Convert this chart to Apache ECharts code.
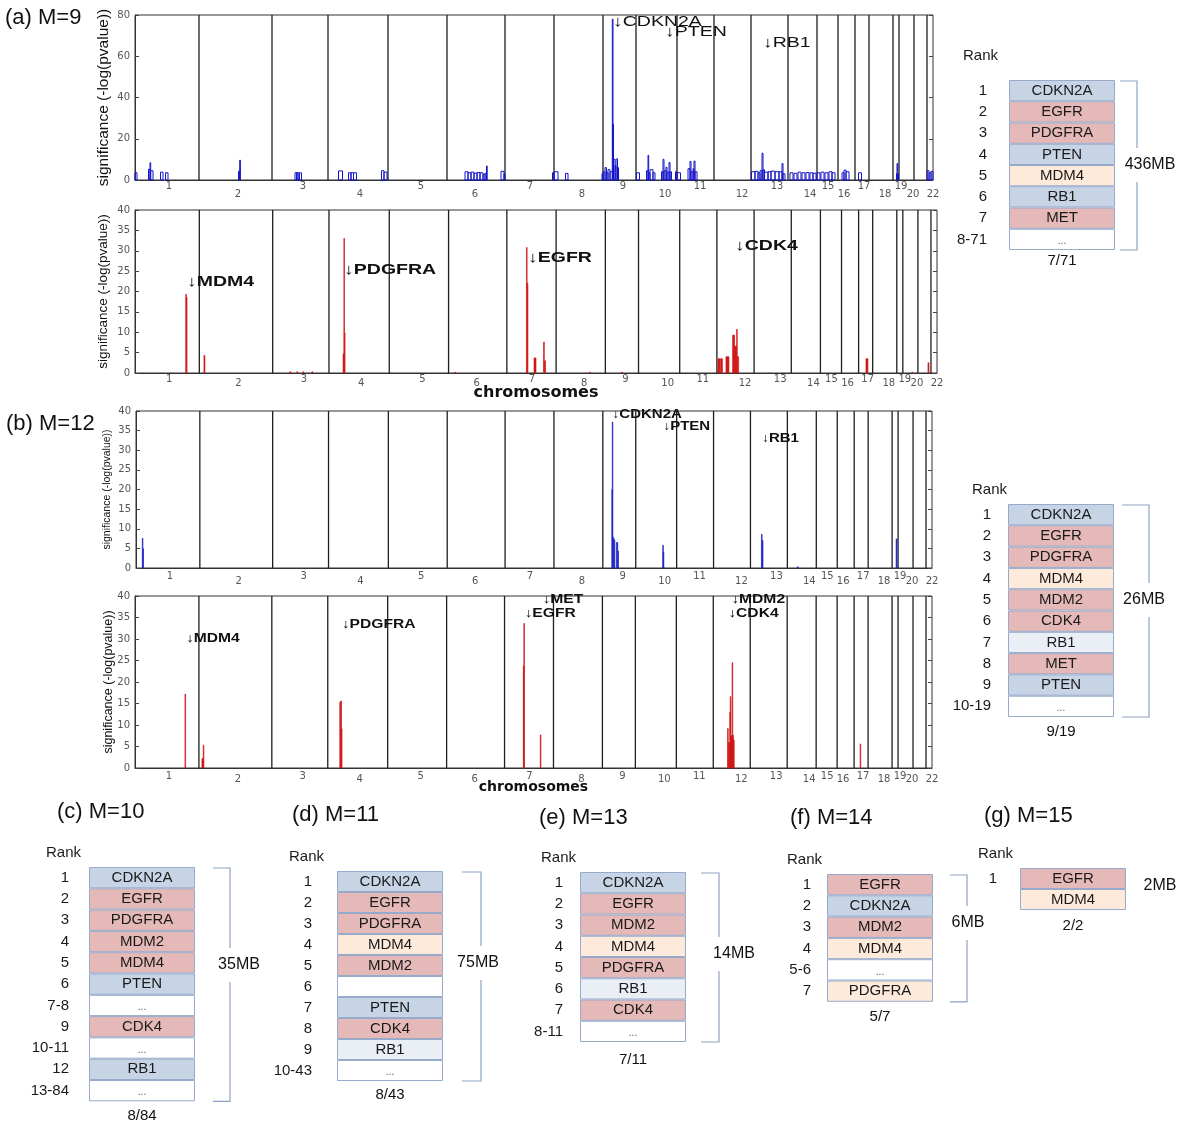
<!DOCTYPE html>
<html><head><meta charset="utf-8">
<script src="https://cdn.jsdelivr.net/npm/echarts@6/dist/echarts.min.js"></script>
<style>html,body{margin:0;padding:0;background:#fff}#c{width:1200px;height:1129px}</style>
</head><body><div id="c"></div>
<script>
// ---------- DATA ----------
// chromosome widths in genome bins (as drawn)
const chromSizes = [64,73,56,60,59,58,49,49,33,41,37,37,37,29,21,17,14,24,6,15,13,6];
// tick-label positions of chromosome numbers (genome bins)
const chromLabelPos = [34,103,168,225,286,340,395,447,488,530,565,607,642,675,693,709,729,750,766,778,790,798];

// spikes: [chromosome, start bin in chr, end bin in chr, -log(pvalue)]
const sigM9Deletion = [
 [1,0,2,3.5],[1,13.5,15,5.2],[1,15,15.6,8.4],[1,15.6,18,4.5],[1,25.5,28,3.8],[1,30.5,33,3.5],
 [2,39.5,40.7,4.2],[2,40.7,41.3,9.6],
 [3,23,24.5,3.5],[3,24.5,26,3.6],[3,26,27.5,3.4],[3,27.5,29.5,3.5],
 [4,10.5,14.5,4.4],[4,20.5,23,3.5],[4,23,25.5,3.5],[4,25.5,28.5,3.5],[4,53.5,56,4.5],[4,56,59,3.8],
 [6,18,21,4],[6,21,24,3.5],[6,24,27,3.8],[6,27,30,3.3],[6,30,33,3.6],[6,33,36,3.5],[6,36,38,2.8],[6,38,39.5,3.2],[6,39.5,40.2,6.8],[6,54,57,4.2],[6,57,58,3],
 [7,47.5,49,3.5],[8,0,4,4],[8,11.5,14,3.2],[8,48,49,3],
 [9,0,2,4],[9,2,3.5,6],[9,3.5,5,3.5],[9,5,7,5],[9,7,9.3,4],[9,9.3,9.8,78],[9,9.8,10.4,27],[9,10.4,12,10],[9,12,13,7],[9,13,14.5,10.2],[9,14.5,15.5,6],
 [10,0.5,3.5,3.5],[10,10.5,12,4.5],[10,12,12.7,12],[10,12.7,14,3.5],[10,14,17,5],[10,17,19,3.5],[10,25.5,27,4],[10,27,28,10],[10,28,30,4.5],[10,30,31,6.2],[10,31,33,3.8],[10,33,34,8.5],[10,34,35.5,4],[10,39.5,41,4],
 [11,0,3.5,3.5],[11,11,13,5.5],[11,13,14,9],[11,14,16,4],[11,16,17,5.5],[11,17,18,9.2],[11,18,20,4],
 [13,0.5,4,4],[13,4,7,4.2],[13,7,9,3.5],[13,9,11,4.5],[13,11,12,13],[13,12,13.5,5],[13,13.5,17,3.8],[13,17,20,4],[13,20,24,4.3],[13,24,28,4],[13,28,31,4],[13,31,32,8],[13,32,34,3],
 [14,2,5,3.5],[14,6,9,3.2],[14,10,13,3.8],[14,14,17,3.5],[14,18,21,3.6],[14,22,25,3.5],[14,25,28,3.3],
 [15,0,3,3.5],[15,4,7,3.8],[15,8,11,3.5],[15,12,15,4],[15,15,18,3.5],
 [16,4,6,3.5],[16,6,8,4.8],[16,8,11,4],
 [17,3.5,6.5,3.5],
 [19,3.5,4,3],[19,4,4.6,8],[19,4.6,5.5,3],
 [22,0,2,4.5],[22,2,4,3.5],[22,4,6,4.2]
];
const sigM9Amplification = [
 [1,50.5,51,19.3],[1,51,51.8,18.5],
 [2,4.6,5.6,4.3],
 [3,17,18,0.3],[3,24,25,0.3],[3,30,31,0.3],[3,39,40,0.3],
 [4,14,14.8,4.7],[4,14.8,15.3,33],[4,15.3,16,9.8],
 [6,6,7,0.2],
 [7,19.5,20.2,30.8],[7,20.2,21,22],[7,27,29,3.7],[7,36.5,37.3,7.6],[7,37.3,38.5,3],
 [8,33,34,0.2],[9,16,17,0.2],
 [12,1,3,3.5],[12,3.5,5.5,3.5],[12,9,12,4],[12,15.6,17.6,9.3],[12,17.6,19.6,6.6],[12,19.6,20.3,10.7],[12,20.3,21.6,4],
 [17,7.3,9.3,3.5],
 [20,9,10,0.2],
 [21,10,11,2.5]
];
const sigM12Deletion = [
 [1,6.3,6.8,7.6],[1,6.8,7.2,4.9],
 [9,9.0,9.4,20],[9,9.4,9.8,37.2],[9,9.8,11,7.8],[9,11,12,7.2],[9,13.5,15,6.5],[9,15,15.6,4.3],
 [10,27,27.5,5.8],[10,27.5,28.2,4],
 [13,11,11.7,8.6],[13,11.7,12.6,7],
 [14,10,11,0.3],
 [19,4,5,7.4]
];
const sigM12Amplification = [
 [1,50,50.7,17.2],
 [2,3,4.3,2.2],[2,4.3,4.8,5.3],
 [4,12,13,15.3],[4,13,13.5,15.6],[4,13.5,14.3,9.1],
 [7,18.8,19.3,23.7],[7,19.3,19.9,33.6],[7,35.8,36.4,7.7],
 [12,14.3,15,9.2],[12,15,16.5,5.9],[12,16.5,17,13],[12,17,17.7,16.6],[12,17.7,18.8,7.5],[12,18.8,19.5,24.5],[12,19.5,20.2,7.6],[12,20.2,21,6.5],
 [17,6,6.7,5.6]
];

// gene annotations: [gene, chromosome, bin in chr, y value]
const annM9Deletion = [['CDKN2A',9,10,76.8],['PTEN',10,29,71.8],['RB1',13,12,66.7]];
const annM9Amplification = [['MDM4',1,51.7,22.3],['PDGFRA',4,15,25.3],['EGFR',7,21,28.2],['CDK4',12,18,31.2]];
const annM12Deletion = [['CDKN2A',9,9,39.0],['PTEN',10,27,35.9],['RB1',13,11,32.9]];
const annM12Amplification = [['MDM4',1,51,30.2],['PDGFRA',4,14,33.3],['MET',7,38,39.1],['EGFR',7,20,36.0],['MDM2',12,18,39.1],['CDK4',12,15,36.0]];

// rank tables
const ranksA = ['1','2','3','4','5','6','7','8-71'];
const genesA = ['CDKN2A','EGFR','PDGFRA','PTEN','MDM4','RB1','MET','...'];
const colorsA = ['B','R','R','B','P','B','R','W'];
const ranksB = ['1','2','3','4','5','6','7','8','9','10-19'];
const genesB = ['CDKN2A','EGFR','PDGFRA','MDM4','MDM2','CDK4','RB1','MET','PTEN','...'];
const colorsB = ['B','R','R','P','R','R','L','R','B','W'];
const ranksC = ['1','2','3','4','5','6','7-8','9','10-11','12','13-84'];
const genesC = ['CDKN2A','EGFR','PDGFRA','MDM2','MDM4','PTEN','...','CDK4','...','RB1','...'];
const colorsC = ['B','R','R','R','R','B','W','R','W','B','W'];
const ranksD = ['1','2','3','4','5','6','7','8','9','10-43'];
const genesD = ['CDKN2A','EGFR','PDGFRA','MDM4','MDM2','','PTEN','CDK4','RB1','...'];
const colorsD = ['B','R','R','P','R','W','B','R','L','W'];
const ranksE = ['1','2','3','4','5','6','7','8-11'];
const genesE = ['CDKN2A','EGFR','MDM2','MDM4','PDGFRA','RB1','CDK4','...'];
const colorsE = ['B','R','R','P','R','L','R','W'];
const ranksF = ['1','2','3','4','5-6','7'];
const genesF = ['EGFR','CDKN2A','MDM2','MDM4','...','PDGFRA'];
const colorsF = ['R','B','R','P','W','P'];
const ranksG = ['1',''];
const genesG = ['EGFR','MDM4'];
const colorsG = ['R','P'];
const tableSizes = ['436MB','26MB','35MB','75MB','14MB','6MB','2MB'];
const tableCounts = ['7/71','9/19','8/84','8/43','7/11','5/7','2/2'];
const panelTitles = ['(a) M=9','(b) M=12','(c) M=10','(d) M=11','(e) M=13','(f) M=14','(g) M=15'];

// ---------- STYLE / LAYOUT ----------
const cellColors = {B:'#c7d4e5', R:'#e6b9b9', P:'#fdeadb', L:'#eaeef5', W:'#ffffff'};
const FONT = 'Liberation Sans';
const chromStart = []; let acc = 0; chromSizes.forEach(s => { chromStart.push(acc); acc += s; });
const genomeLen = acc;
const chromBounds = chromStart.slice(1);

const grids = [], xAxes = [], yAxes = [], series = [], graphics = [];

const plots = [
 {data:sigM9Deletion, ann:annM9Deletion, color:'#1414c8', filled:false, left:135, top:15, width:798, height:165, yMax:80, yInt:20, nameSize:15.5, nameGap:23, lblMargin:1, lblPad:8, annFont:'15px "Liberation Sans"', annScale:1.3},
 {data:sigM9Amplification, ann:annM9Amplification, color:'#d01616', filled:true, left:135, top:210, width:802, height:163, yMax:40, yInt:5, nameSize:13.5, nameGap:25, lblMargin:1, lblPad:4, annFont:'bold 15px "Liberation Sans"', annScale:1.3, xName:'chromosomes', xNameSize:16, xNameGap:12},
 {data:sigM12Deletion, ann:annM12Deletion, color:'#2222c4', filled:true, left:136, top:411, width:796, height:157, yMax:40, yInt:5, nameSize:10.5, nameGap:23, lblMargin:3, lblPad:5, annFont:'bold 12px "Liberation Sans"', annScale:1.25},
 {data:sigM12Amplification, ann:annM12Amplification, color:'#d01616', filled:true, left:135, top:596, width:797, height:172, yMax:40, yInt:5, nameSize:12.5, nameGap:20, lblMargin:3, lblPad:3, annFont:'bold 12.5px "Liberation Sans"', annScale:1.25, xName:'chromosomes', xNameSize:14, xNameGap:12}
];

plots.forEach(p => {
  const gi = grids.length;
  grids.push({left:p.left, top:p.top, width:p.width, height:p.height, show:true, borderColor:'#333', borderWidth:1, backgroundColor:'transparent', outerBoundsMode:'none'});
  const xi = xAxes.length;
  xAxes.push({type:'value', gridIndex:gi, min:0, max:genomeLen,
    axisLine:{show:true, lineStyle:{color:'#333', width:1}}, axisTick:{show:false}, splitLine:{show:false},
    axisLabel:{show:true, customValues:chromLabelPos, margin:p.lblMargin, showMinLabel:true, showMaxLabel:true,
      formatter:(v) => { const n = chromLabelPos.indexOf(v) + 1; return (n % 2 ? '{o|' : '{e|') + n + '}'; },
      rich:{o:{fontSize:10, color:'#555', fontFamily:'DejaVu Sans'}, e:{fontSize:10, color:'#555', fontFamily:'DejaVu Sans', padding:[p.lblPad,0,0,0]}}},
    name:p.xName || '', nameLocation:'middle', nameGap:p.xNameGap || 10, nameMoveOverlap:false,
    nameTextStyle:{fontFamily:'DejaVu Sans', fontWeight:'bold', fontSize:p.xNameSize || 14, color:'#111'}});
  const yi = yAxes.length;
  yAxes.push({type:'value', gridIndex:gi, min:0, max:p.yMax, interval:p.yInt, position:'left',
    axisLine:{show:true, lineStyle:{color:'#333'}}, axisTick:{show:true, inside:true, length:4, lineStyle:{color:'#444'}},
    axisLabel:{fontSize:10, color:'#555', fontFamily:'DejaVu Sans', margin:5}, splitLine:{show:false},
    name:'significance (-log(pvalue))', nameLocation:'middle', nameRotate:90, nameGap:p.nameGap, nameMoveOverlap:false,
    nameTextStyle:{fontFamily:FONT, fontSize:p.nameSize, color:'#111'}});
  yAxes.push({type:'value', gridIndex:gi, min:0, max:p.yMax, interval:p.yInt, position:'right',
    axisLine:{show:false}, axisTick:{show:true, inside:true, length:4, lineStyle:{color:'#444'}},
    axisLabel:{show:false}, splitLine:{show:false}});
  // chromosome boundaries
  series.push({type:'custom', xAxisIndex:xi, yAxisIndex:yi, silent:true, z:2,
    data:chromBounds.map(b => [b, 0]),
    renderItem:(params, api) => {
      const cs = params.coordSys; const x = api.coord([api.value(0), 0])[0];
      return {type:'line', shape:{x1:x, y1:cs.y, x2:x, y2:cs.y + cs.height}, style:{stroke:'#1e1e1e', lineWidth:1.3}};
    }});
  // spikes
  series.push({type:'custom', xAxisIndex:xi, yAxisIndex:yi, silent:true, z:3,
    data:p.data.map(d => [chromStart[d[0]-1] + d[1], chromStart[d[0]-1] + d[2], d[3]]),
    renderItem:(params, api) => {
      const a = api.coord([api.value(0), 0]);
      const b = api.coord([api.value(1), api.value(2)]);
      const w = Math.max(b[0] - a[0], 0.7);
      return {type:'rect', shape:{x:a[0], y:b[1], width:w, height:a[1] - b[1]},
        style: p.filled ? {fill:p.color, stroke:p.color, lineWidth:0.6} : {fill:null, stroke:p.color, lineWidth:1}};
    }});
  // gene annotations
  series.push({type:'custom', xAxisIndex:xi, yAxisIndex:yi, silent:true, z:4,
    data:p.ann.map(a => [chromStart[a[1]-1] + a[2], a[3]]),
    renderItem:(params, api) => {
      const pt = api.coord([api.value(0), api.value(1)]);
      return {type:'text', x:pt[0], y:pt[1], scaleX:p.annScale, scaleY:1,
        style:{text:'\u2193' + p.ann[params.dataIndex][0], font:p.annFont, fill:'#111',
          align:'left', verticalAlign:'middle', textAlign:'left', textVerticalAlign:'middle'}};
    }});
});

// tables
const tables = [
 {ranks:ranksA, genes:genesA, colors:colorsA, left:1009, top:80, rowH:21.25, rankMargin:22, countGap:3, bracket:true, gap:5, arm:17, labelDx:13, labelDy:85, rankX:963, rankY:48, titleX:5, titleY:7},
 {ranks:ranksB, genes:genesB, colors:colorsB, left:1008, top:504, rowH:21.3, rankMargin:17, countGap:7, bracket:true, gap:8, arm:27, labelDx:-5, labelDy:96, rankX:972, rankY:482, titleX:6, titleY:413},
 {ranks:ranksC, genes:genesC, colors:colorsC, left:89, top:867, rowH:21.3, rankMargin:20, countGap:7, bracket:true, gap:18, arm:17, labelDx:9, labelDy:98, rankX:46, rankY:845, titleX:57, titleY:801},
 {ranks:ranksD, genes:genesD, colors:colorsD, left:337, top:871, rowH:21, rankMargin:25, countGap:6, bracket:true, gap:19, arm:19, labelDx:-3, labelDy:92, rankX:289, rankY:849, titleX:292, titleY:804},
 {ranks:ranksE, genes:genesE, colors:colorsE, left:580, top:872, rowH:21.25, rankMargin:17, countGap:10, bracket:true, gap:15, arm:18, labelDx:15, labelDy:82, rankX:541, rankY:850, titleX:539, titleY:807},
 {ranks:ranksF, genes:genesF, colors:colorsF, left:827, top:874, rowH:21.3, rankMargin:16, countGap:8, bracket:true, gap:17, arm:17, labelDx:1, labelDy:49, rankX:787, rankY:852, titleX:790, titleY:807},
 {ranks:ranksG, genes:genesG, colors:colorsG, left:1020, top:868, rowH:21, rankMargin:23, countGap:8, bracket:false, gap:34, arm:0, labelDx:0, labelDy:18, rankX:978, rankY:846, titleX:984, titleY:805}
];

tables.forEach((t, ti) => {
  const gi = grids.length;
  grids.push({left:t.left, top:t.top, width:106, height:t.rowH * t.ranks.length, show:false, outerBoundsMode:'none'});
  const xi = xAxes.length;
  xAxes.push({type:'value', gridIndex:gi, min:0, max:1, show:true,
    axisLine:{show:false}, axisTick:{show:false}, axisLabel:{show:false}, splitLine:{show:false},
    name:tableCounts[ti], nameLocation:'middle', nameGap:t.countGap, nameMoveOverlap:false,
    nameTextStyle:{fontFamily:FONT, fontSize:15, color:'#111'}});
  const yi = yAxes.length;
  yAxes.push({type:'category', gridIndex:gi, data:t.ranks, inverse:true,
    axisLine:{show:false}, axisTick:{show:false}, splitLine:{show:false},
    axisLabel:{margin:t.rankMargin, fontSize:15, color:'#1a1a1a', fontFamily:FONT, interval:0}});
  series.push({type:'bar', xAxisIndex:xi, yAxisIndex:yi, barWidth:'100%', silent:true,
    itemStyle:{borderColor:'#98aaca', borderWidth:1},
    label:{show:true, position:'inside', fontFamily:FONT, fontSize:15, color:'#1a1a1a',
      formatter:(prm) => t.genes[prm.dataIndex]},
    data:t.genes.map((g, i) => {
      const item = {value:1, itemStyle:{color:cellColors[t.colors[i]]}};
      if (g === '...') item.label = {fontSize:10, color:'#555', offset:[0, 2]};
      return item;
    })});
  // bracket + size label
  series.push({type:'custom', xAxisIndex:xi, yAxisIndex:yi, silent:true, clip:false, z:5,
    data:[[0, 0]],
    renderItem:(params, api) => {
      const cs = params.coordSys;
      const x0 = cs.x + cs.width + t.gap, x1 = x0 + t.arm;
      const yT = cs.y + 1, yB = cs.y + cs.height, ly = cs.y + t.labelDy;
      const children = [];
      if (t.bracket) {
        children.push({type:'polyline', shape:{points:[[x0, yT], [x1, yT], [x1, ly - 17]]}, style:{stroke:'#8fa2c3', lineWidth:1.2, fill:null}});
        children.push({type:'polyline', shape:{points:[[x1, ly + 17], [x1, yB], [x0, yB]]}, style:{stroke:'#8fa2c3', lineWidth:1.2, fill:null}});
      }
      children.push({type:'text', x:x1 + t.labelDx, y:ly,
        style:{text:tableSizes[ti], font:'16px "Liberation Sans"', fill:'#111',
          align:'center', verticalAlign:'middle', textAlign:'center', textVerticalAlign:'middle'}});
      return {type:'group', children};
    }});
  graphics.push({type:'text', left:t.rankX, top:t.rankY, style:{text:'Rank', font:'15px "Liberation Sans"', fill:'#1a1a1a'}});
  graphics.push({type:'text', left:t.titleX, top:t.titleY, style:{text:panelTitles[ti], font:'22px "Liberation Sans"', fill:'#111'}});
});

const chart = echarts.init(document.getElementById('c'), null, {renderer:'canvas'});
chart.setOption({
  backgroundColor:'#ffffff',
  animation:false,
  textStyle:{fontFamily:FONT},
  grid:grids, xAxis:xAxes, yAxis:yAxes, series:series, graphic:graphics
});
</script>
</body></html>
